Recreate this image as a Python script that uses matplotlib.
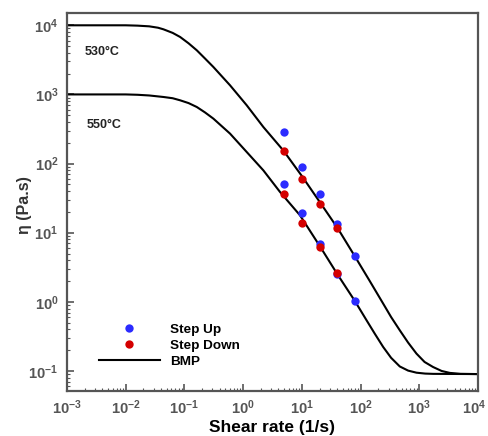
import numpy as np
import matplotlib
matplotlib.use("Agg")
import matplotlib.pyplot as plt
import matplotlib.transforms as mtransforms
from matplotlib.ticker import FixedLocator, FuncFormatter, LogLocator, NullFormatter

plt.rcParams['font.family'] = ['Liberation Sans', 'DejaVu Sans']
plt.rcParams['mathtext.fontset'] = 'custom'
plt.rcParams['mathtext.rm'] = 'Liberation Sans:bold'
plt.rcParams['mathtext.bf'] = 'Liberation Sans:bold'

# Model (BMP) curves, log10 coordinates
bmp530_logx = [-3.0, -2.0, -1.8, -1.6, -1.45, -1.357, -1.2, -1.073, -0.93, -0.789, -0.65,
               -0.507, -0.223, 0.061, 0.344, 0.684, 1.0, 1.308, 1.61, 1.903, 2.15,
               2.385, 2.52, 2.668, 2.81, 2.952, 3.09, 3.235, 3.38, 3.519, 3.7, 4.0]
bmp530_logy = [4.0, 4.0, 3.995, 3.985, 3.965, 3.942, 3.89, 3.831, 3.74, 3.638, 3.52,
               3.397, 3.132, 2.843, 2.529, 2.19, 1.82, 1.44, 1.065, 0.658, 0.31,
               -0.026, -0.22, -0.412, -0.59, -0.749, -0.87, -0.943, -1.0, -1.028, -1.042, -1.045]
bmp550_logx = [-3.0, -2.0, -1.8, -1.6, -1.357, -1.2, -1.073, -0.93, -0.789, -0.65,
               -0.507, -0.223, 0.061, 0.344, 0.628, 0.968, 1.308, 1.609, 1.903, 2.102,
               2.245, 2.385, 2.52, 2.668, 2.81, 2.952, 3.1, 3.235, 4.0]
bmp550_logy = [3.0, 3.0, 2.995, 2.985, 2.963, 2.945, 2.915, 2.875, 2.818, 2.74,
               2.650, 2.433, 2.167, 1.902, 1.589, 1.252, 0.803, 0.394, 0.012, -0.267,
               -0.465, -0.653, -0.81, -0.935, -0.995, -1.025, -1.038, -1.042, -1.045]

# Measured points
up_rate = [5, 10, 20, 40, 80]
up530 = [286, 89, 36.7, 13.5, 4.6]
up550 = [50, 19.5, 6.95, 2.5, 1.03]
down_rate = [5, 10, 20, 40]
down530 = [150, 60, 26, 11.5]
down550 = [36, 14, 6.3, 2.6]

fig = plt.figure(figsize=(4.89, 4.36), dpi=100)
ax = fig.add_axes([0.137, 0.1032, 0.8405, 0.867])

ax.set_xscale('log')
ax.set_yscale('log')

ln, = ax.plot(10 ** np.array(bmp530_logx), 10 ** np.array(bmp530_logy), color='black', lw=1.5, zorder=2)
ax.plot(10 ** np.array(bmp550_logx), 10 ** np.array(bmp550_logy), color='black', lw=1.5, zorder=2)

su, = ax.plot(up_rate, up530, 'o', color='#2b2bff', ms=6, mec='none', zorder=3)
ax.plot(up_rate, up550, 'o', color='#2b2bff', ms=6, mec='none', zorder=3)
sd, = ax.plot(down_rate, down530, 'o', color='#d40000', ms=6, mec='none', zorder=4)
ax.plot(down_rate, down550, 'o', color='#d40000', ms=6, mec='none', zorder=4)

ax.set_xlim(1e-3, 1e4)
ax.set_ylim(10 ** -1.29, 10 ** 4.178)

def fmt(v, pos):
    e = int(round(np.log10(v)))
    return r'$\mathbf{10^{%d}}$' % e

ax.xaxis.set_major_locator(FixedLocator([10.0 ** k for k in range(-3, 5)]))
ax.yaxis.set_major_locator(FixedLocator([10.0 ** k for k in range(-1, 5)]))
ax.xaxis.set_major_formatter(FuncFormatter(fmt))
ax.yaxis.set_major_formatter(FuncFormatter(fmt))
ax.xaxis.set_minor_locator(LogLocator(base=10, subs=np.arange(2, 10), numticks=20))
ax.yaxis.set_minor_locator(LogLocator(base=10, subs=np.arange(2, 10), numticks=20))
ax.xaxis.set_minor_formatter(NullFormatter())
ax.yaxis.set_minor_formatter(NullFormatter())

ax.tick_params(which='both', direction='in', top=False, right=False, color='#555555')
ax.tick_params(which='major', length=5, width=1.2, labelsize=10.7, labelcolor='#555555')
ax.tick_params(axis='x', which='major', pad=5)
ax.tick_params(axis='y', which='major', pad=6)
ax.tick_params(which='minor', length=2.5, width=0.8)

for s in ax.spines.values():
    s.set_color('#555555')
    s.set_linewidth(1.6)

ax.set_xlabel('Shear rate (1/s)', fontsize=12.5, fontweight='bold')
ax.xaxis.set_label_coords(0.5, -0.078)
ax.set_ylabel('η (Pa.s)', fontsize=11.5, fontweight='bold', color='#333333')
ax.yaxis.set_label_coords(-0.085, 0.492)

ax.text(0.044, 0.897, '530°C', transform=ax.transAxes, fontsize=9, fontweight='bold',
        color='#222222', va='center')
ax.text(0.049, 0.704, '550°C', transform=ax.transAxes, fontsize=9, fontweight='bold',
        color='#222222', va='center')

leg = ax.legend([su, sd, ln], ['Step Up', 'Step Down', 'BMP'], loc='lower left',
                bbox_to_anchor=(0.078, 0.062), frameon=False,
                handlelength=4.5, handletextpad=0.8, labelspacing=0.25, borderpad=0,
                borderaxespad=0, prop={'weight': 'bold', 'size': 9.7})

# keep the last x tick label inside the canvas
fig.canvas.draw()
last = ax.xaxis.get_major_ticks()[-1].label1
last.set_transform(last.get_transform() +
                   mtransforms.ScaledTranslation(-3 / 72, 0, fig.dpi_scale_trans))

fig.savefig('out.png', dpi=100)
